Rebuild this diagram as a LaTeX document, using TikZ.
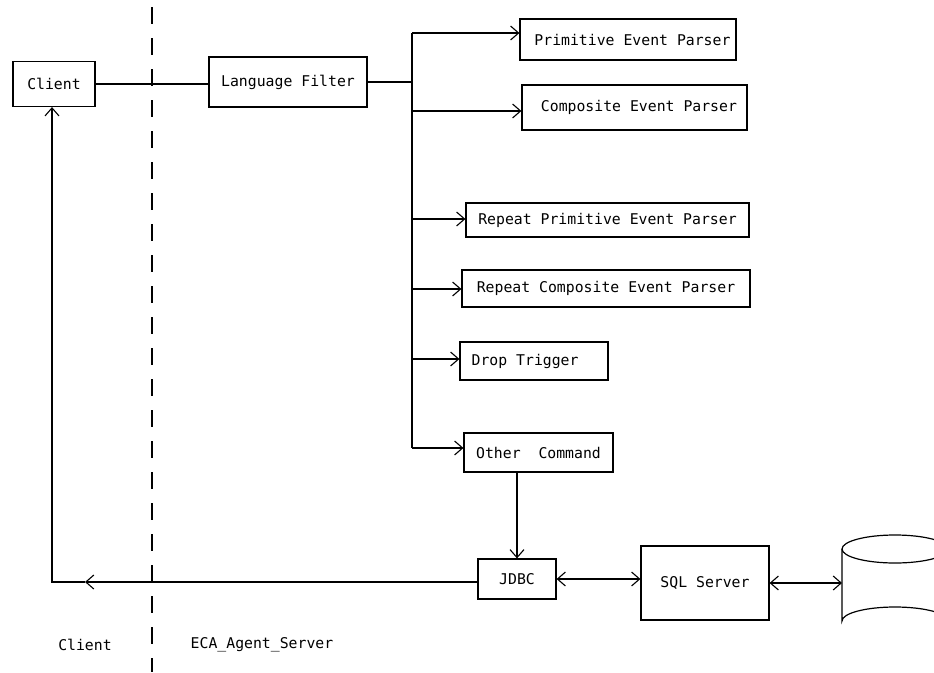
\documentclass[tikz,border=0pt]{standalone}
\usepackage{fontspec}
\setmonofont{DejaVu Sans Mono}
\usetikzlibrary{arrows.meta}
\begin{document}
\begin{tikzpicture}[x=1pt,y=-1pt,
  every node/.style={font=\ttfamily\fontsize{14.8}{16}\selectfont},
  box/.style={draw,line width=1.2pt,inner sep=0pt},
  wire/.style={line width=1.2pt},
  tip/.tip={Straight Barb[length=8pt,width=14pt,line width=1.1pt]},
  arr/.style={wire,-tip},
  dbl/.style={wire,tip-tip},
  lbl/.style={inner sep=0pt}]
\useasboundingbox (0,0) rectangle (934,672);
\clip (0,0) rectangle (934,672);

% tier boundary
\draw[line width=1.1pt,dash pattern=on 17pt off 14pt] (152,7) -- (152,672);

% boxes
\node[box,minimum width=82pt,minimum height=45pt] (client) at (54,84) {Client};
\node[box,minimum width=158pt,minimum height=50pt] (lf) at (288,82) {Language Filter};
\node[box,minimum width=216pt,minimum height=41pt] (pep) at (628,39.5) {~Primitive Event Parser};
\node[box,minimum width=225pt,minimum height=45pt] (cep) at (634.5,107.5) {~Composite Event Parser};
\node[box,minimum width=283pt,minimum height=34pt] (rpep) at (607.5,220) {Repeat Primitive Event Parser};
\node[box,minimum width=288pt,minimum height=37pt] (rcep) at (606,288.5) {Repeat Composite Event Parser};
\node[box,minimum width=148pt,minimum height=38pt] (dt) at (534,361) {Drop Trigger~~~};
\node[box,minimum width=149pt,minimum height=39pt] (oc) at (538.5,452.5) {Other~~Command};
\node[box,minimum width=78pt,minimum height=40pt] (jdbc) at (517,579) {JDBC};
\node[box,minimum width=128pt,minimum height=74pt] (sql) at (705,583) {SQL Server};

% database cylinder
\draw[line width=1.2pt] (895,549) ellipse [x radius=53, y radius=14];
\draw[line width=1.2pt] (842,549) -- (842,621)
  arc[start angle=180, end angle=360, x radius=53, y radius=14] -- (948,549);
\coordinate (db) at (842,583);

% tier labels
\node[lbl] (clientlbl) at (85,645) {Client};
\node[lbl] (serverlbl) at (262,645) {ECA\_Agent\_Server};

% client to language filter
\draw[wire] (client.east) -- (client.east -| lf.west);

% dispatch bus
\coordinate (bt) at (412,33);
\coordinate (bb) at (412,448);
\draw[wire] (bt) -- (bb);
\draw[wire] (lf.east) -- (lf.east -| bt);
\coordinate (b1) at (412,33);
\coordinate (b2) at (412,111);
\coordinate (b3) at (412,219);
\coordinate (b4) at (412,289);
\coordinate (b5) at (412,359);
\coordinate (b6) at (412,448);
\draw[arr] (b1) -- (b1 -| pep.west);
\draw[arr] (b2) -- (b2 -| cep.west);
\draw[arr] (b3) -- (b3 -| rpep.west);
\draw[arr] (b4) -- (b4 -| rcep.west);
\draw[arr] (b5) -- (b5 -| dt.west);
\draw[arr] (b6) -- (b6 -| oc.west);

% command path to the database
\draw[arr] (jdbc.north |- oc.south) -- (jdbc.north);
\draw[dbl] (jdbc.east) -- (jdbc.east -| sql.west);
\draw[dbl] (sql.east) -- (sql.east -| db);

% result path back to the client
\coordinate (ret) at (85,582);
\coordinate (corner) at (52,582);
\draw[arr] (jdbc.west |- ret) -- (ret);
\draw[arr] (ret) -- (corner) -- (corner |- client.south);
\end{tikzpicture}
\end{document}
